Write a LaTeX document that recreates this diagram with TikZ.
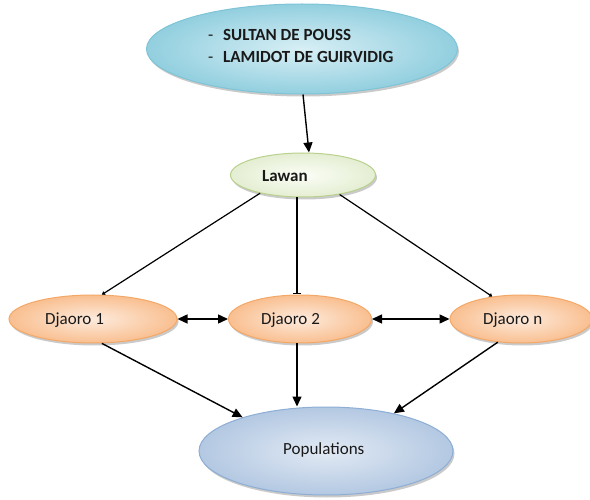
\documentclass[tikz,border=0pt]{standalone}
\usepackage{fontspec}
\setmainfont{Carlito}
\usetikzlibrary{shapes,
	arrows.meta,
	shadows,
	positioning}
\definecolor{chfin}{HTML}{D8EFF5}
\definecolor{chfout}{HTML}{92CFDF}
\definecolor{chfdraw}{HTML}{7EC4D6}
\definecolor{lwin}{HTML}{FBFDF6}
\definecolor{lwout}{HTML}{E4EED2}
\definecolor{lwdraw}{HTML}{B9D18C}
\definecolor{djin}{HTML}{FDEBDD}
\definecolor{djout}{HTML}{F9BF90}
\definecolor{djdraw}{HTML}{F4A867}
\definecolor{ppin}{HTML}{E2EAF4}
\definecolor{ppout}{HTML}{B3C8E2}
\definecolor{ppdraw}{HTML}{8EAED5}
\tikzstyle{ov}=[ellipse, inner sep=0, line width=1pt, shading=radial,
		drop shadow={shadow xshift=1.5pt, shadow yshift=-2.5pt, fill=black!60, opacity=.35}]
\tikzstyle{chf}=[ov, draw=chfdraw, inner color=chfin, outer color=chfout, minimum width=311pt, minimum height=90pt]
\tikzstyle{lw}=[ov, draw=lwdraw, inner color=lwin, outer color=lwout, minimum width=145pt, minimum height=44pt]
\tikzstyle{dj}=[ov, draw=djdraw, inner color=djin, outer color=djout, minimum height=48pt]
\tikzstyle{pp}=[ov, draw=ppdraw, inner color=ppin, outer color=ppout, minimum width=254pt, minimum height=88pt]
\tikzstyle{txt}=[inner sep=0, anchor=base west, text=black!90]
\tikzstyle{fl}=[line width=1.4pt, -{Triangle[length=10pt, width=9pt]}]
\tikzstyle{dfl}=[line width=1.4pt, {Triangle[length=10pt, width=9pt]}-{Triangle[length=10pt, width=9pt]}]
\tikzstyle{fin}=[line width=1.2pt, -{Triangle[length=3pt, width=4pt]}]

\begin{document}
\begin{tikzpicture}[x=1pt, y=-1pt, font=\fontsize{17}{22}\selectfont]
\useasboundingbox (0,0) rectangle (590,500);
\node[chf] (chef) at (302,49) {};
\node[txt] (l1) at (208,41) {\makebox[15pt][l]{-}\textbf{SULTAN DE POUSS}};
\node[txt] (l2) at (208,63) {\makebox[15pt][l]{-}\textbf{LAMIDOT DE GUIRVIDIG}};
\node[lw] (lawan) at (303,175) {};
\node[txt] (tlawan) at (262,182) {\textbf{Lawan}};
\node[dj, minimum width=168pt] (d1) at (93,319) {};
\node[txt] (td1) at (45,325) {Djaoro 1};
\node[dj, minimum width=143pt] (d2) at (300,319) {};
\node[txt] (td2) at (261,325) {Djaoro 2};
\node[dj, minimum width=142pt] (dn) at (521,319) {};
\node[txt] (tdn) at (483,325) {Djaoro n};
\node[pp] (pop) at (326,451) {};
\node[txt] (tpop) at (283,454) {Populations};

\draw[fl] ([xshift=1pt]chef.south) -- ([xshift=6pt]lawan.north);
\draw[fin] (lawan.203) -- (d1.70);
\draw[line width=1.2pt, -{Bar[width=8pt]}] ([xshift=-6pt]lawan.south) -- ([xshift=-3pt]d2.north);
\draw[fin] (lawan.332) -- (dn.142);
\draw[dfl] (d1.east) -- (d2.west);
\draw[dfl] (d2.east) -- (dn.west);
\draw[fl] (d1.290) -- (pop.158);
\draw[fl] ([xshift=-3pt]d2.south) -- ([xshift=-29pt]pop.north);
\draw[fl] (dn.225) -- (pop.29);
\end{tikzpicture}
\end{document}
